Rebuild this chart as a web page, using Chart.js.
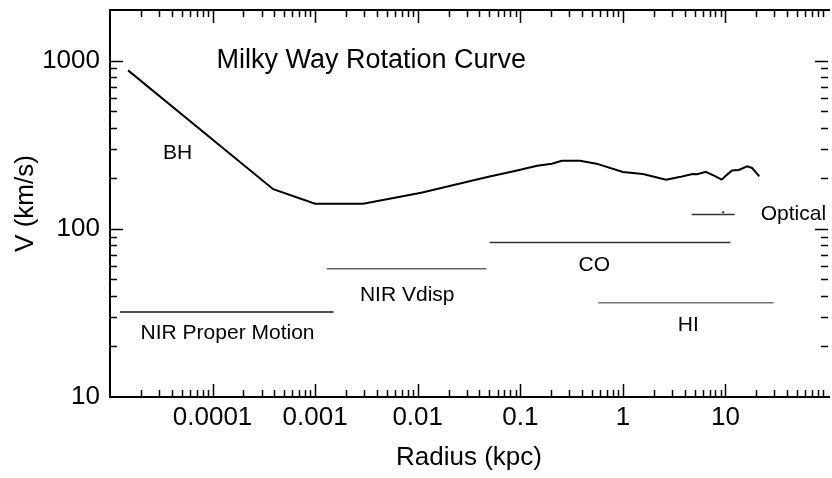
<!DOCTYPE html>
<html>
<head>
<meta charset="utf-8">
<script src="https://cdn.jsdelivr.net/npm/chart.js@4/dist/chart.umd.min.js"></script>
<style>
  html, body { margin: 0; padding: 0; background: #fff; }
</style>
</head>
<body>
<canvas id="rotation-chart" width="832" height="478"></canvas>
<script>
// rotation curve (radius in kpc, velocity in km/s)
const curveRadius = [1.5e-5, 3.9e-4, 1.0e-3, 2.94e-3, 0.0108, 0.0478, 0.093, 0.146, 0.203, 0.254, 0.382, 0.553, 1.0, 1.57, 2.64, 3.55, 4.78, 5.33, 6.43, 7.74, 9.19, 10.4, 11.6, 13.5, 16.3, 18.2, 21.4]
const curveVelocity = [875, 172, 141, 141, 164, 203, 222, 237, 244, 254, 254, 244, 218, 212, 196, 203, 212, 211, 218, 207, 196, 210, 222, 224, 235, 230, 205]

// radial coverage of each tracer
const tracerNames = ['NIR Proper Motion', 'NIR Vdisp', 'CO', 'HI', 'Optical']
const tracerFrom = [1.25e-5, 1.3e-3, 0.0502, 0.575, 4.68]
const tracerTo = [1.51e-3, 0.047, 11.2, 29.5, 12.3]
const tracerVelocity = [32, 57.8, 82.8, 36.4, 121.7]
const opticalDot = [9.5, 125.6]

const radiusTicks = [0.0001, 0.001, 0.01, 0.1, 1, 10]
const velocityTicks = [10, 100, 1000]

const tracerColors = ['#111', '#666', '#333', '#777', '#333']

const notes = [
  { text: 'Milky Way Rotation Curve', x: 1.09e-4, y: 1000, size: 27, align: 'left' },
  { text: 'BH', x: 4.55e-5, y: 283 },
  { text: 'NIR Proper Motion', x: 1.4e-4, y: 24 },
  { text: 'NIR Vdisp', x: 7.9e-3, y: 40.5 },
  { text: 'CO', x: 0.527, y: 61.1 },
  { text: 'HI', x: 4.34, y: 26.6 },
  { text: 'Optical', x: 46, y: 122 }
]

const fontFamily = "'Liberation Sans', Arial, sans-serif"
Chart.defaults.font.family = fontFamily
Chart.defaults.color = '#000'

const datasets = [{
  data: curveRadius.map((r, i) => ({ x: r, y: curveVelocity[i] })),
  borderColor: '#000',
  borderWidth: 2,
  pointRadius: 0,
  tension: 0,
  showLine: true
}]
tracerNames.forEach((name, i) => {
  datasets.push({
    label: name,
    data: [{ x: tracerFrom[i], y: tracerVelocity[i] }, { x: tracerTo[i], y: tracerVelocity[i] }],
    borderColor: tracerColors[i],
    borderWidth: 1.5,
    pointRadius: 0,
    showLine: true
  })
})
datasets.push({
  data: [{ x: opticalDot[0], y: opticalDot[1] }],
  backgroundColor: '#000',
  borderWidth: 0,
  pointRadius: 1
})

// inward tick marks on all four sides plus the frame
const frameTicks = {
  id: 'frameTicks',
  afterDraw(chart) {
    const { ctx, chartArea: a, scales: { x, y } } = chart
    ctx.save()
    ctx.strokeStyle = '#000'
    ctx.lineWidth = 2
    ctx.beginPath()
    ctx.moveTo(a.left, a.top); ctx.lineTo(a.right + 2, a.top)
    ctx.moveTo(a.left, a.top - 1); ctx.lineTo(a.left, a.bottom + 1)
    ctx.moveTo(a.left - 1, a.bottom); ctx.lineTo(a.right + 2, a.bottom)
    ctx.stroke()
    ctx.lineWidth = 1.5
    ctx.beginPath()
    for (let e = -5; e < 2; e++) {
      for (let k = 1; k < 10; k++) {
        const v = k * Math.pow(10, e)
        if (v <= x.min || v >= x.max) continue
        const px = Math.round(x.getPixelForValue(v)) + 0.5
        const len = k === 1 ? 13 : 7
        ctx.moveTo(px, a.bottom); ctx.lineTo(px, a.bottom - len)
        ctx.moveTo(px, a.top); ctx.lineTo(px, a.top + len)
      }
    }
    for (let e = 1; e < 4; e++) {
      for (let k = 1; k < 10; k++) {
        const v = k * Math.pow(10, e)
        if (v <= y.min || v >= y.max) continue
        const py = Math.round(y.getPixelForValue(v)) + 0.5
        const len = k === 1 ? 13 : 7
        ctx.moveTo(a.left, py); ctx.lineTo(a.left + len, py)
        ctx.moveTo(a.right, py); ctx.lineTo(a.right - len, py)
      }
    }
    ctx.stroke()
    ctx.restore()
  }
}

const noteLabels = {
  id: 'noteLabels',
  afterDatasetsDraw(chart) {
    const { ctx, scales: { x, y } } = chart
    ctx.save()
    ctx.fillStyle = '#000'
    ctx.textBaseline = 'middle'
    notes.forEach(n => {
      ctx.font = (n.size || 21) + 'px ' + fontFamily
      ctx.textAlign = n.align || 'center'
      ctx.fillText(n.text, x.getPixelForValue(n.x), y.getPixelForValue(n.y))
    })
    ctx.restore()
  }
}

const rotationChart = new Chart(document.getElementById('rotation-chart'), {
  type: 'scatter',
  data: { datasets },
  options: {
    responsive: false,
    animation: false,
    layout: { padding: { top: 10, right: 0, left: 0, bottom: 0 } },
    plugins: { legend: { display: false }, tooltip: { enabled: false } },
    scales: {
      x: {
        type: 'logarithmic',
        min: 1e-5,
        max: 100,
        grid: { display: false, drawTicks: false },
        border: { display: false },
        afterBuildTicks: s => { s.ticks = radiusTicks.map(v => ({ value: v })) },
        afterFit: s => { s.height = 81; s.paddingLeft = 0; s.paddingRight = 0 },
        ticks: {
          font: { size: 26 },
          padding: 5,
          maxRotation: 0,
          autoSkip: false,
          callback: v => String(v)
        },
        title: { display: true, text: 'Radius (kpc)', font: { size: 26 }, padding: { top: 0, bottom: 5 } }
      },
      y: {
        type: 'logarithmic',
        min: 10,
        max: 2000,
        grid: { display: false, drawTicks: false },
        border: { display: false },
        afterBuildTicks: s => { s.ticks = velocityTicks.map(v => ({ value: v })) },
        afterFit: s => { s.width = 110; s.paddingTop = 0; s.paddingBottom = 0 },
        ticks: {
          font: { size: 26 },
          padding: 10,
          autoSkip: false,
          callback: v => String(v)
        },
        title: { display: true, text: 'V (km/s)', font: { size: 26 }, padding: { top: 10, bottom: 0 } }
      }
    }
  },
  plugins: [frameTicks, noteLabels]
})
</script>
</body>
</html>
